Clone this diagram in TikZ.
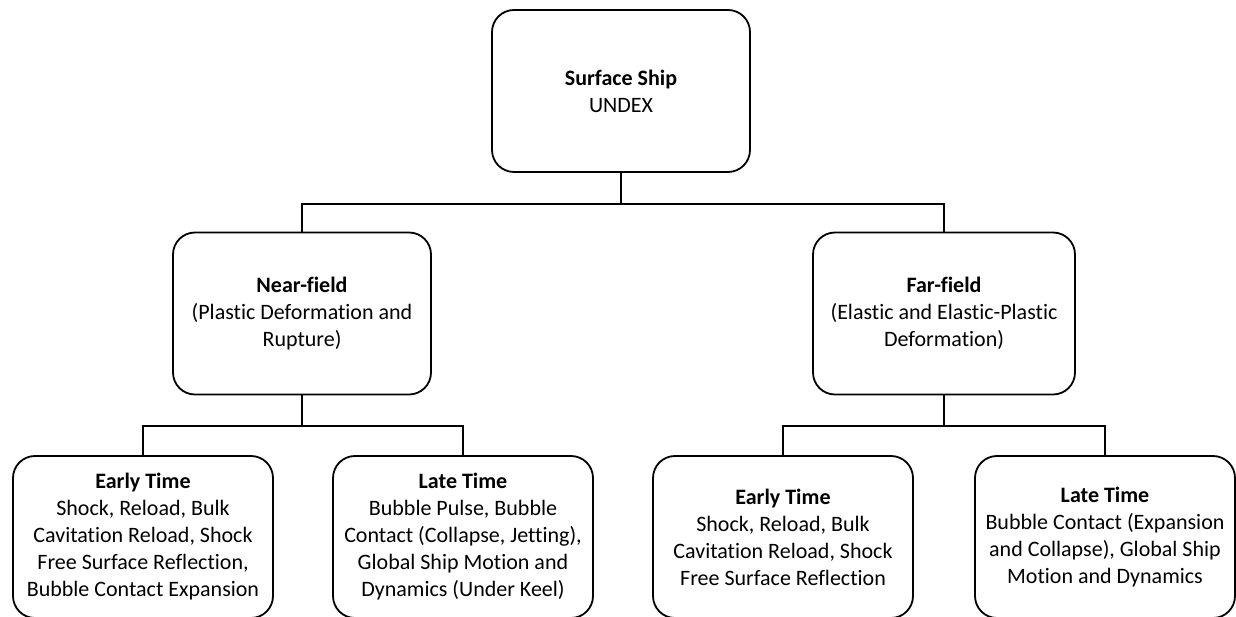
\documentclass[tikz,border=0pt]{standalone}
\usepackage{fontspec}
\setmainfont{Carlito}[Ligatures=NoCommon]
\usetikzlibrary{positioning}

\begin{document}
\begin{tikzpicture}[x=1pt,y=1pt,
    box/.style={draw=black,line width=1.8pt,rounded corners=22pt,align=center,
        minimum width=258pt,minimum height=162pt,inner sep=0pt,
        font=\fontsize{22}{27}\selectfont},
    link/.style={black,line width=1.8pt}]

    \clip (0,0) rectangle (1236,616);

    % top level
    \node[box] (ship) at (621,525) {\textbf{Surface Ship}\\UNDEX};

    % second level
    \node[box] (near) at (302,302.5) {\textbf{Near-field}\\(Plastic Deformation and\\Rupture)};
    \node[box,minimum width=262pt] (far) at (944,302.5) {\textbf{Far-field}\\(Elastic and Elastic-Plastic\\Deformation)};

    % third level
    \node[box,minimum width=260pt] (nearearly) at (143,79) {\textbf{Early Time}\\Shock, Reload, Bulk\\Cavitation Reload, Shock\\Free Surface Reflection,\\Bubble Contact Expansion};
    \node[box,minimum width=260pt] (nearlate) at (463,79) {\textbf{Late Time}\\Bubble Pulse, Bubble\\Contact (Collapse, Jetting),\\Global Ship Motion and\\Dynamics (Under Keel)};
    \node[box,minimum width=260pt] (farearly) at (783,79) {\textbf{Early Time}\\Shock, Reload, Bulk\\Cavitation Reload, Shock\\Free Surface Reflection};
    \node[box,minimum width=260pt] (farlate) at (1105,79) {\textbf{Late Time}\\Bubble Contact (Expansion\\and Collapse), Global Ship\\Motion and Dynamics};

    % connectors
    \draw[link] (ship.south) -- ++(0,-31) coordinate (shipjoin) -| (near.north);
    \draw[link] (shipjoin) -| (far.north);
    \draw[link] (near.south) -- ++(0,-31) coordinate (nearjoin) -| (nearearly.north);
    \draw[link] (nearjoin) -| (nearlate.north);
    \draw[link] (far.south) -- ++(0,-31) coordinate (farjoin) -| (farearly.north);
    \draw[link] (farjoin) -| (farlate.north);

\end{tikzpicture}
\end{document}
